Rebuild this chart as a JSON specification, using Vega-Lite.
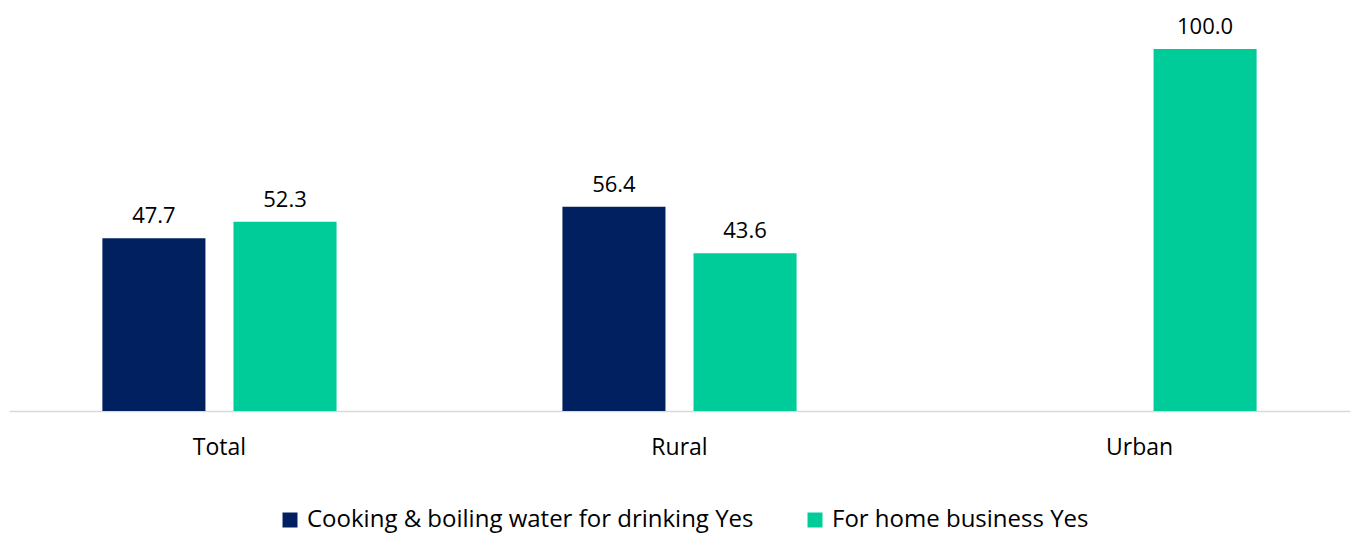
{
  "$schema": "https://vega.github.io/schema/vega-lite/v6.json",
  "width": 1341,
  "height": 362,
  "autosize": "none",
  "padding": {"left": 9, "top": 49, "right": 4, "bottom": 123},
  "background": "white",
  "config": {"view": {"stroke": null}, "font": "Open Sans"},
  "data": {
    "values": [
      {"area": "Total", "series": "Cooking & boiling water for drinking Yes", "value": 47.7},
      {"area": "Total", "series": "For home business Yes", "value": 52.3},
      {"area": "Rural", "series": "Cooking & boiling water for drinking Yes", "value": 56.4},
      {"area": "Rural", "series": "For home business Yes", "value": 43.6},
      {"area": "Urban", "series": "For home business Yes", "value": 100.0}
    ]
  },
  "encoding": {
    "x": {
      "field": "area", "type": "nominal", "sort": ["Total", "Rural", "Urban"],
      "scale": {"paddingInner": 0.491, "paddingOuter": 0.203},
      "axis": {"title": null, "labelAngle": 0, "labelFont": "Open Sans", "labelFontSize": 23, "labelColor": "#000000", "labelPadding": 25, "ticks": false, "domainColor": "#d9d9d9", "domainWidth": 1.5}
    },
    "xOffset": {
      "field": "series", "type": "nominal",
      "scale": {"domain": ["Cooking & boiling water for drinking Yes", "For home business Yes"], "paddingInner": 0.214, "paddingOuter": 0}
    },
    "y": {
      "field": "value", "type": "quantitative",
      "scale": {"domain": [0, 100], "nice": false},
      "axis": null
    }
  },
  "layer": [
    {
      "mark": {"type": "bar"},
      "encoding": {
        "color": {
          "field": "series", "type": "nominal",
          "scale": {"domain": ["Cooking & boiling water for drinking Yes", "For home business Yes"], "range": ["#002060", "#00CC99"]},
          "legend": {"title": null, "orient": "none", "direction": "horizontal", "legendX": 269, "legendY": 459, "symbolType": "square", "symbolSize": 225, "labelFont": "Open Sans", "labelFontSize": 24, "labelColor": "#000000", "labelOffset": 5, "columnPadding": 49, "symbolStrokeWidth": 0, "labelLimit": 600}
        }
      }
    },
    {
      "mark": {"type": "text", "baseline": "alphabetic", "dy": -15, "fontSize": 22, "font": "Open Sans", "color": "#000000"},
      "encoding": {
        "text": {"field": "value", "type": "quantitative", "format": ".1f"}
      }
    }
  ]
}
